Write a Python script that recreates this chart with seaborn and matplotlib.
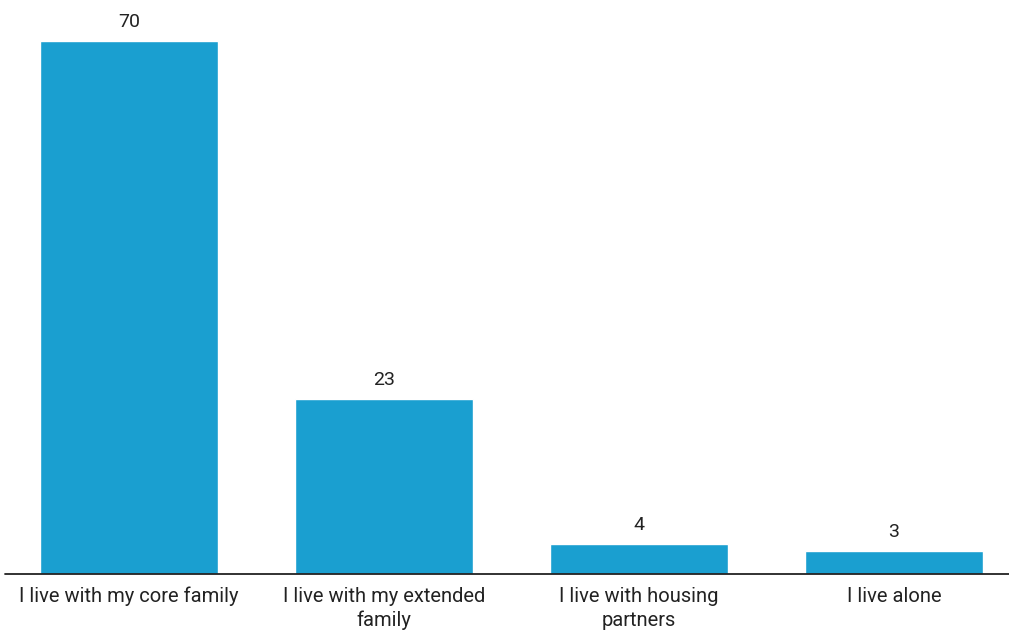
import matplotlib
matplotlib.use("Agg")
import matplotlib.pyplot as plt
import seaborn as sns
import pandas as pd

categories = ["I live with my core family", "I live with my extended\nfamily",
              "I live with housing\npartners", "I live alone"]
values = [70, 23, 4, 3]

sns.set_theme(style="white")
plt.rcParams['font.family'] = ['Roboto', 'DejaVu Sans']

df = pd.DataFrame({"cat": categories, "val": values})
fig = plt.figure(figsize=(10.09, 6.30), dpi=100)
ax = fig.add_axes([1.5/1009, 56/630, 1020/1009, 574/630])
sns.barplot(data=df, x="cat", y="val", color="#1A9FD0", saturation=1, width=0.70, ax=ax)
ax.set_ylim(0, 75.4)
ax.set_xlim(-0.5, 3.5)
for s in ["top", "right", "left", "bottom"]:
    ax.spines[s].set_visible(False)
ax.axhline(0, xmin=3.5/1020, xmax=1, color="#222222", lw=1.3, clip_on=False)
ax.set_yticks([])
ax.set_xlabel("")
ax.set_ylabel("")
ax.tick_params(axis="x", length=0, pad=9, labelsize=14.5, labelcolor="#222222")
for lbl in ax.get_xticklabels():
    lbl.set_linespacing(1.35)
for c in ax.containers:
    ax.bar_label(c, labels=[str(v) for v in values], padding=7, fontsize=14, color="#222222")
fig.savefig("out.png", dpi=100, facecolor="white")
